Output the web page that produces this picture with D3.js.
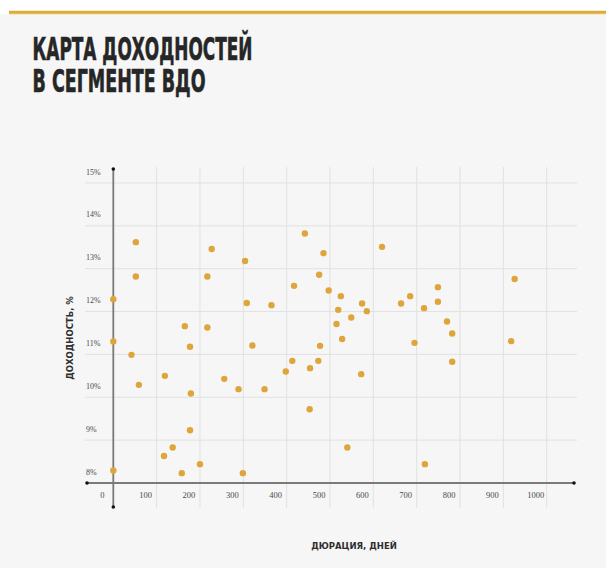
<!DOCTYPE html>
<html>
<head>
<meta charset="utf-8">
<script src="https://cdn.jsdelivr.net/npm/d3@7"></script>
<style>
  html, body { margin: 0; padding: 0; background: #ffffff; }
  svg { display: block; }
</style>
</head>
<body>
<svg id="chart" width="606" height="568"></svg>
<script>
// Duration (days) and yield (%) of high-yield bond issues
const durations = [
  0, 0, 0, 42, 52, 52, 59, 117, 119, 137,
  158, 165, 177, 177, 179, 200, 217, 217, 227, 256,
  289, 299, 304, 308, 321, 349, 365, 398, 413, 417,
  442, 453, 454, 473, 475, 477, 485, 497, 515, 519,
  525, 528, 540, 549, 572, 574, 585, 620, 664, 685,
  695, 717, 719, 749, 749, 770, 782, 782, 918, 926
];
const yields = [
  12.29, 11.30, 8.29, 10.99, 13.62, 12.82, 10.29, 8.63, 10.50, 8.83,
  8.23, 11.66, 11.18, 9.23, 10.09, 8.44, 12.82, 11.63, 13.46, 10.43,
  10.19, 8.23, 13.18, 12.20, 11.21, 10.19, 12.15, 10.60, 10.85, 12.60,
  13.82, 9.72, 10.68, 10.85, 12.86, 11.20, 13.36, 12.49, 11.71, 12.04,
  12.36, 11.36, 8.83, 11.86, 10.54, 12.19, 12.01, 13.51, 12.19, 12.36,
  11.27, 12.08, 8.44, 12.57, 12.23, 11.77, 11.49, 10.83, 11.31, 12.76
];
const xTicks = [0, 100, 200, 300, 400, 500, 600, 700, 800, 900, 1000];
const yTicks = [8, 9, 10, 11, 12, 13, 14, 15];
const titleLines = ["КАРТА ДОХОДНОСТЕЙ", "В СЕГМЕНТЕ ВДО"];
const xTitle = "ДЮРАЦИЯ, ДНЕЙ";
const yTitle = "ДОХОДНОСТЬ, %";

const points = durations.map((d, i) => ({ d, y: yields[i] }));

const svg = d3.select("#chart");

// page background and top accent rule
svg.append("rect").attr("x", 0).attr("y", 14).attr("width", 606).attr("height", 554).attr("fill", "#f6f6f6");
svg.append("rect").attr("x", 9).attr("y", 10.5).attr("width", 597).attr("height", 4).attr("fill", "#f3d98f");
svg.append("rect").attr("x", 9).attr("y", 11).attr("width", 597).attr("height", 2.6).attr("fill", "#d9ac3c");

// title
const title = svg.append("g").attr("fill", "#262626").attr("stroke", "#262626").attr("stroke-width", 0.6)
  .style("font-family", "'Liberation Sans Narrow', 'DejaVu Sans Condensed', sans-serif")
  .style("font-weight", "700").style("font-size", "31.5px");
title.append("text").attr("x", 32.5).attr("y", 59.5)
  .attr("textLength", 220).attr("lengthAdjust", "spacingAndGlyphs").text(titleLines[0]);
title.append("text").attr("x", 32.5).attr("y", 92)
  .attr("textLength", 173).attr("lengthAdjust", "spacingAndGlyphs").text(titleLines[1]);

// scales
const x = d3.scaleLinear().domain([0, 1000]).range([113.3, 546.7]);
const y = d3.scaleLinear().domain([8, 15]).range([483, 183]);

// vertical grid
svg.append("g").selectAll("line").data(xTicks.filter(t => t > 0)).join("line")
  .attr("x1", d => x(d)).attr("x2", d => x(d))
  .attr("y1", 167).attr("y2", 508)
  .attr("stroke", "#e1e1e1").attr("stroke-width", 1);

// horizontal grid
svg.append("g").selectAll("line").data(yTicks.filter(t => t > 8)).join("line")
  .attr("x1", 85).attr("x2", 577)
  .attr("y1", d => y(d)).attr("y2", d => y(d))
  .attr("stroke", "#e1e1e1").attr("stroke-width", 1);

// tick labels sit up-left of their grid lines
const tickFont = "'Liberation Serif', 'DejaVu Serif', serif";
svg.append("g").selectAll("text").data(xTicks).join("text")
  .attr("x", d => x(d) - 11).attr("y", 498)
  .attr("text-anchor", "middle")
  .style("font-family", tickFont).style("font-size", "8.5px").attr("fill", "#4a4a4a")
  .text(d => d);

svg.append("g").selectAll("text").data(yTicks).join("text")
  .attr("x", 86).attr("y", d => y(d) - 8.5)
  .style("font-family", tickFont).style("font-size", "8px").attr("fill", "#4a4a4a")
  .text(d => d + "%");

// axes with dotted ends
const axisColor = "#7a7a7a";
svg.append("line").attr("x1", 87).attr("x2", 574).attr("y1", y(8)).attr("y2", y(8))
  .attr("stroke", axisColor).attr("stroke-width", 1.8);
svg.append("line").attr("x1", x(0)).attr("x2", x(0)).attr("y1", 169).attr("y2", 507)
  .attr("stroke", axisColor).attr("stroke-width", 1.8);
const ends = [[87, y(8)], [574, y(8)], [x(0), 169], [x(0), 507]];
svg.append("g").selectAll("circle").data(ends).join("circle")
  .attr("cx", d => d[0]).attr("cy", d => d[1]).attr("r", 1.8).attr("fill", "#111");

// data points
svg.append("g").selectAll("circle").data(points).join("circle")
  .attr("cx", d => x(d.d)).attr("cy", d => y(d.y)).attr("r", 3.2)
  .attr("fill", "#dea63a");

// axis titles
const labelFont = "'DejaVu Sans', sans-serif";
svg.append("text").attr("x", 354).attr("y", 549).attr("text-anchor", "middle")
  .style("font-family", labelFont).style("font-weight", "700").style("font-size", "8.5px")
  .attr("fill", "#2e2e2e").text(xTitle);
svg.append("text").attr("transform", "translate(73,338) rotate(-90)").attr("text-anchor", "middle")
  .style("font-family", labelFont).style("font-weight", "700").style("font-size", "8.5px")
  .attr("fill", "#2e2e2e").text(yTitle);
</script>
</body>
</html>
